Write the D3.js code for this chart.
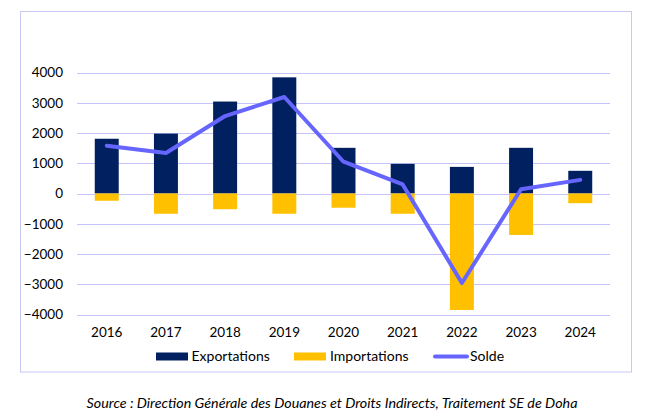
<!DOCTYPE html>
<html>
<head>
<meta charset="utf-8">
<script src="https://cdn.jsdelivr.net/npm/d3@7"></script>
<style>
  body { margin: 0; background: #fff; }
  svg { display: block; }
  text { font-family: Lato, "Open Sans", sans-serif; fill: #000; }
</style>
</head>
<body>
<svg id="chart" width="650" height="418"></svg>
<script>
const years = ["2016","2017","2018","2019","2020","2021","2022","2023","2024"];
const exportations = [1810, 1980, 3040, 3840, 1510, 980, 880, 1510, 750];
const importations = [-240, -670, -520, -670, -470, -670, -3850, -1370, -320];
const solde = [1580, 1340, 2560, 3190, 1050, 300, -2960, 140, 450];
const yTicks = [-4000, -3000, -2000, -1000, 0, 1000, 2000, 3000, 4000];
const seriesNames = ["Exportations", "Importations", "Solde"];
const colors = { exp: "#002060", imp: "#FFC000", solde: "#6666FF", grid: "#C4C4FA", border: "#C8C8F5" };
const sourceText = "Source : Direction Générale des Douanes et Droits Indirects, Traitement SE de Doha";

const svg = d3.select("#chart");
const x = d3.scaleBand().domain(years).range([77, 610]).paddingInner(0.595).paddingOuter(0.3);
const y = d3.scaleLinear().domain([-4000, 4000]).range([314.5, 72.5]);

// outer border
svg.append("rect").attr("x", 20.5).attr("y", 11.5).attr("width", 611).attr("height", 360.5)
  .attr("fill", "none").attr("stroke", colors.border).attr("stroke-width", 1);

// gridlines
svg.append("g").selectAll("line").data(yTicks).join("line")
  .attr("x1", 77).attr("x2", 610)
  .attr("y1", d => Math.round(y(d)) + 0.5).attr("y2", d => Math.round(y(d)) + 0.5)
  .attr("stroke", colors.grid).attr("stroke-width", 1);

// y axis labels
const yAxis = d3.axisLeft(y).tickValues(yTicks).tickSize(0).tickPadding(0).tickFormat(d3.format("d"));
const gy = svg.append("g").attr("transform", "translate(63,0)").call(yAxis);
gy.select(".domain").remove();
gy.selectAll("text").style("font-family", "Lato, sans-serif").style("font-size", "13.5px").attr("fill", "#000");

// x axis labels
const xAxis = d3.axisBottom(x).tickSize(0).tickPadding(0);
const gx = svg.append("g").attr("transform", "translate(0,327)").call(xAxis);
gx.select(".domain").remove();
gx.selectAll("text").style("font-family", "Lato, sans-serif").style("font-size", "13.5px").attr("fill", "#000");

// bars
svg.append("g").selectAll("rect").data(years).join("rect")
  .attr("x", d => x(d)).attr("width", x.bandwidth())
  .attr("y", (d, i) => y(exportations[i])).attr("height", (d, i) => y(0) - y(exportations[i]))
  .attr("fill", colors.exp);
svg.append("g").selectAll("rect").data(years).join("rect")
  .attr("x", d => x(d)).attr("width", x.bandwidth())
  .attr("y", y(0)).attr("height", (d, i) => y(importations[i]) - y(0))
  .attr("fill", colors.imp);

// line
const line = d3.line().x((d, i) => x(years[i]) + x.bandwidth() / 2).y(d => y(d));
svg.append("path").datum(solde).attr("d", line)
  .attr("fill", "none").attr("stroke", colors.solde).attr("stroke-width", 4)
  .attr("stroke-linejoin", "round").attr("stroke-linecap", "round");

// legend
const lg = svg.append("g");
lg.append("rect").attr("x", 156).attr("y", 352.5).attr("width", 32).attr("height", 8).attr("fill", colors.exp);
lg.append("text").attr("x", 191.5).attr("y", 361).style("font-size", "14px").text(seriesNames[0]);
lg.append("rect").attr("x", 294).attr("y", 352.5).attr("width", 32).attr("height", 8).attr("fill", colors.imp);
lg.append("text").attr("x", 330).attr("y", 361).style("font-size", "14px").text(seriesNames[1]);
lg.append("line").attr("x1", 435).attr("x2", 467).attr("y1", 356.5).attr("y2", 356.5)
  .attr("stroke", colors.solde).attr("stroke-width", 4).attr("stroke-linecap", "round");
lg.append("text").attr("x", 470).attr("y", 361).style("font-size", "14px").text(seriesNames[2]);

// source
svg.append("text").attr("x", 332).attr("y", 408).attr("text-anchor", "middle")
  .style("font-size", "14.3px").style("font-style", "italic").text(sourceText);
</script>
</body>
</html>
